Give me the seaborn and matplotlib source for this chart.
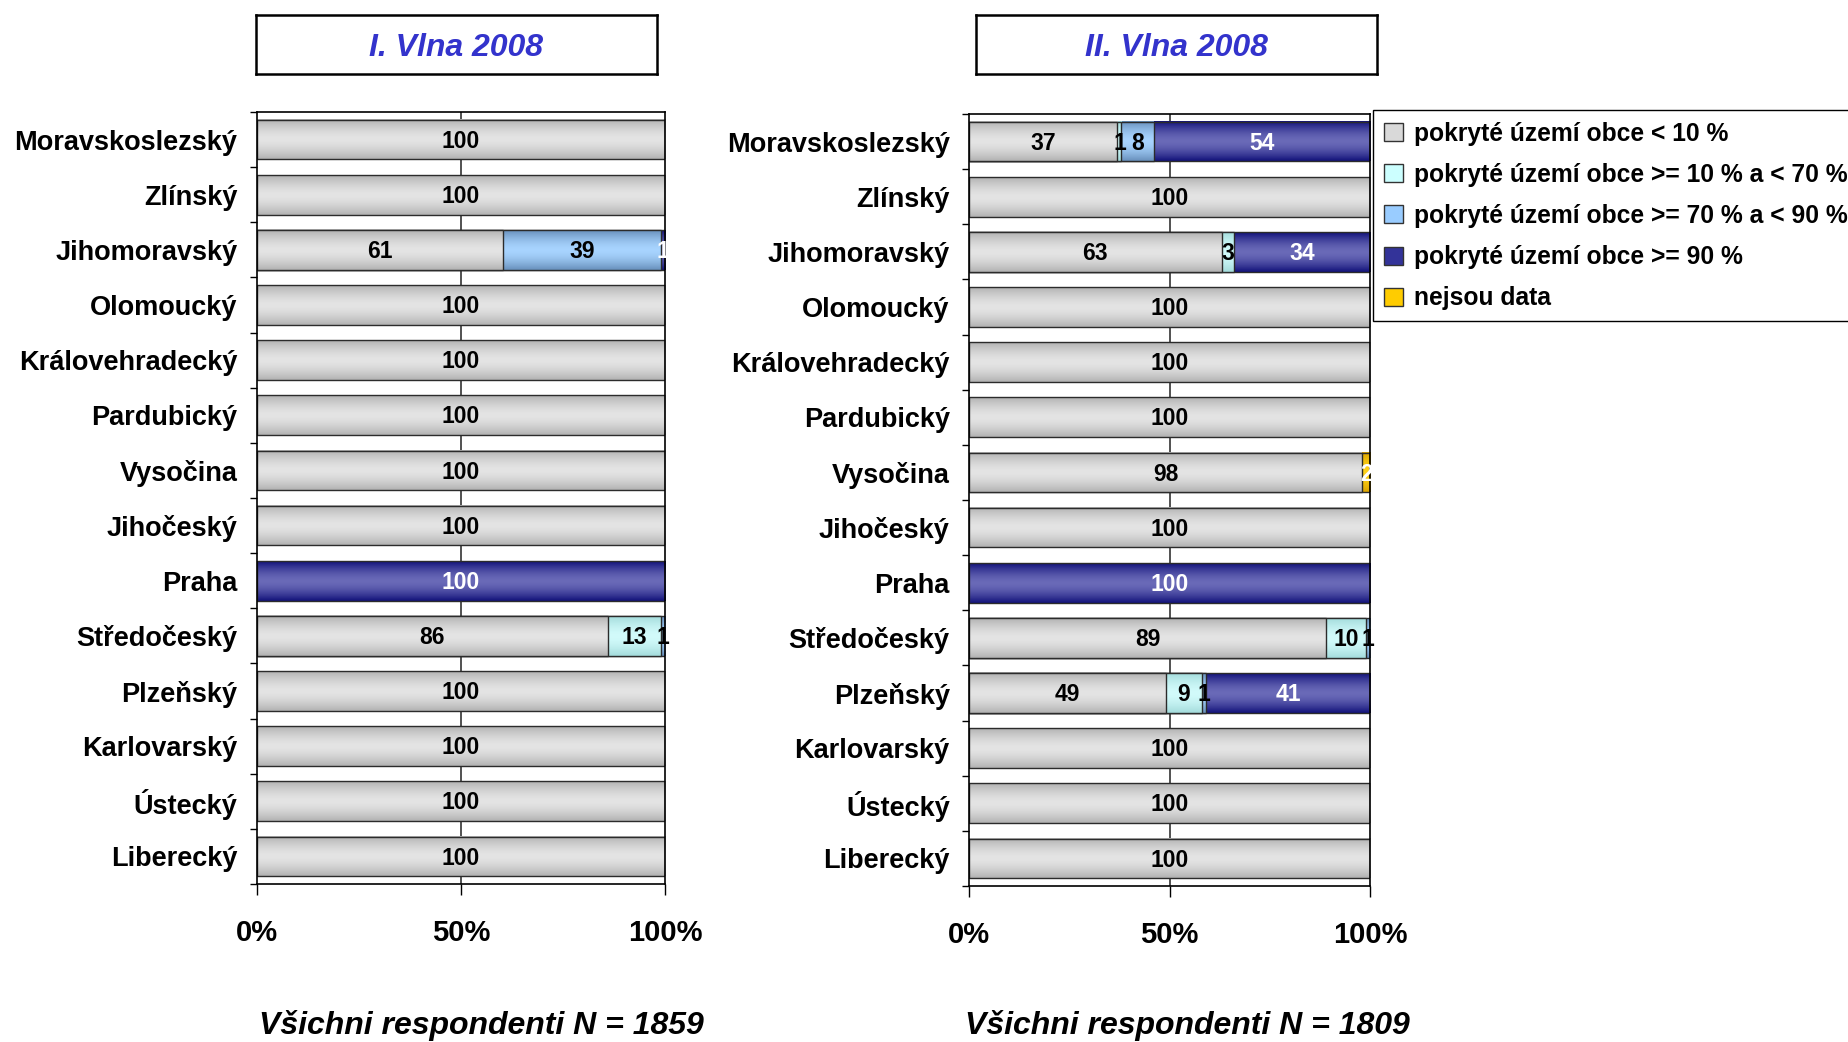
"""Gráfico de barras empilhadas 100 % - pokrytí území obce, dvě vlny 2008"""
import numpy as np
import pandas as pd
import matplotlib
matplotlib.use("Agg")
import matplotlib.pyplot as plt
from matplotlib.patches import Patch
from matplotlib.colors import to_rgb
import seaborn as sns

kraje = ["Moravskoslezský", "Zlínský", "Jihomoravský", "Olomoucký",
         "Královehradecký", "Pardubický", "Vysočina", "Jihočeský", "Praha",
         "Středočeský", "Plzeňský", "Karlovarský", "Ústecký", "Liberecký"]

kategorie = ["pokryté území obce < 10 %",
             "pokryté území obce >= 10 % a < 70 %",
             "pokryté území obce >= 70 % a < 90 %",
             "pokryté území obce >= 90 %",
             "nejsou data"]

# I. vlna 2008
vlna1_pod10 = [100, 100, 61, 100, 100, 100, 100, 100, 0, 86, 100, 100, 100, 100]
vlna1_10_70 = [0, 0, 0, 0, 0, 0, 0, 0, 0, 13, 0, 0, 0, 0]
vlna1_70_90 = [0, 0, 39, 0, 0, 0, 0, 0, 0, 1, 0, 0, 0, 0]
vlna1_nad90 = [0, 0, 1, 0, 0, 0, 0, 0, 100, 0, 0, 0, 0, 0]
vlna1_bez_dat = [0, 0, 0, 0, 0, 0, 0, 0, 0, 0, 0, 0, 0, 0]

# II. vlna 2008
vlna2_pod10 = [37, 100, 63, 100, 100, 100, 98, 100, 0, 89, 49, 100, 100, 100]
vlna2_10_70 = [1, 0, 3, 0, 0, 0, 0, 0, 0, 10, 9, 0, 0, 0]
vlna2_70_90 = [8, 0, 0, 0, 0, 0, 0, 0, 0, 1, 1, 0, 0, 0]
vlna2_nad90 = [54, 0, 34, 0, 0, 0, 0, 0, 100, 0, 41, 0, 0, 0]
vlna2_bez_dat = [0, 0, 0, 0, 0, 0, 2, 0, 0, 0, 0, 0, 0, 0]

tituly = ["I. Vlna 2008", "II. Vlna 2008"]
popisky_n = ["Všichni respondenti N = 1859", "Všichni respondenti N = 1809"]
x_ticks = [0, 50, 100]
x_labels = ["0%", "50%", "100%"]

# (centro, borda) do degradê de cada categoria
cores = [("#e4e4e4", "#b2b2b2"),
         ("#d2fbfb", "#a4dcdc"),
         ("#a8d4ff", "#6890bc"),
         ("#6a6ab8", "#12127a"),
         ("#ffd21a", "#dca400")]
cores_legenda = ["#d9d9d9", "#ccffff", "#99ccff", "#333399", "#ffcc00"]
cor_texto = ["black", "black", "black", "white", "white"]


def gradiente(c_centro, c_borda, n=60):
    """Devolve imagem (n,1,3) com degradê vertical: claro no meio, escuro nas bordas"""
    t = np.abs(np.linspace(-1, 1, n)) ** 1.6
    a, b = np.array(to_rgb(c_centro)), np.array(to_rgb(c_borda))
    return (a[None, :] * (1 - t[:, None]) + b[None, :] * t[:, None])[:, None, :]


def desenhar_painel(ax, serie):
    """Barras empilhadas 100 % (soma acumulada desenhada da maior para a menor)"""
    tbl = pd.DataFrame(np.array(serie).T, columns=kategorie, index=kraje)
    pct = tbl.div(tbl.sum(axis=1), axis=0) * 100
    cum = pct.cumsum(axis=1)

    ax.axvline(50, color="#333333", lw=1.2, zorder=1)
    z = 1.1
    for k in reversed(range(len(kategorie))):
        n0 = len(ax.patches)
        sns.barplot(x=cum.iloc[:, k].values, y=kraje, orient="h", ax=ax,
                    width=0.72, color=cores[k][0], saturation=1, errorbar=None,
                    edgecolor="#2b2b2b", linewidth=1.0)
        img = gradiente(*cores[k])
        for p, v in zip(ax.patches[n0:], tbl.iloc[:, k].values):
            if v == 0:
                p.set_visible(False)
                continue
            x0, y0, w, h = p.get_x(), p.get_y(), p.get_width(), p.get_height()
            ax.imshow(img, extent=(x0, x0 + w, y0 + h, y0), aspect="auto",
                      interpolation="bilinear", zorder=z)
            p.set_facecolor("none")
            p.set_zorder(z + 0.002)
            z += 0.005

    # rótulos dos valores
    esquerda = cum - pct
    for i, kraj in enumerate(kraje):
        for k in range(len(kategorie)):
            v = tbl.iloc[i, k]
            if v == 0:
                continue
            xc = esquerda.iloc[i, k] + pct.iloc[i, k] / 2
            ax.text(xc, i + 0.03, str(v), ha="center", va="center", fontsize=16.5,
                    fontweight="bold", color=cor_texto[k], zorder=10)

    ax.set_xlim(0, 100)
    ax.set_ylim(len(kraje) - 0.5, -0.5)
    ax.set_xlabel("")
    ax.set_ylabel("")
    ax.set_xticks(x_ticks)
    ax.set_xticklabels(x_labels, fontsize=21, fontweight="bold")
    ax.set_yticks(range(len(kraje)))
    ax.set_yticklabels(kraje, fontsize=19.5, fontweight="bold")
    ax.set_yticks(np.arange(-0.5, len(kraje), 1), minor=True)
    ax.tick_params(axis="y", which="major", length=0, pad=14, left=True)
    ax.tick_params(axis="y", which="minor", length=5, width=1, direction="out",
                   color="black", left=True)
    ax.tick_params(axis="x", which="major", length=8, width=1, direction="out",
                   color="black", pad=17, bottom=True)
    for s in ax.spines.values():
        s.set_visible(True)
        s.set_color("black")
        s.set_linewidth(1.2)


sns.set_theme(style="white")
plt.rcParams["font.family"] = ["Liberation Sans", "DejaVu Sans"]
plt.rcParams["text.color"] = "black"
plt.rcParams["xtick.color"] = "black"
plt.rcParams["ytick.color"] = "black"

fig = plt.figure(figsize=(18.48, 10.42), dpi=100)

ax1 = fig.add_axes([0.139, 0.1516, 0.2208, 0.7409])
ax2 = fig.add_axes([0.5244, 0.1497, 0.2170, 0.7409])

desenhar_painel(ax1, [vlna1_pod10, vlna1_10_70, vlna1_70_90, vlna1_nad90, vlna1_bez_dat])
desenhar_painel(ax2, [vlna2_pod10, vlna2_10_70, vlna2_70_90, vlna2_nad90, vlna2_bez_dat])

# caixas de título
for x0, titulo in zip([0.1385, 0.5281], tituly):
    tax = fig.add_axes([x0, 0.929, 0.217, 0.0566])
    tax.set_xticks([])
    tax.set_yticks([])
    for s in tax.spines.values():
        s.set_visible(True)
        s.set_color("black")
        s.set_linewidth(1.8)
    tax.text(0.5, 0.44, titulo, ha="center", va="center", fontsize=23,
             fontweight="bold", fontstyle="italic", color="#3333cc",
             transform=tax.transAxes)

# rodapé
for xc, txt in zip([0.2603, 0.6423], popisky_n):
    fig.text(xc, 0.016, txt, ha="center", va="center", fontsize=23,
             fontweight="bold", fontstyle="italic", color="black")

handles = [Patch(facecolor=c, edgecolor="#333333", linewidth=1) for c in cores_legenda]
fig.legend(handles, kategorie, loc="upper left", bbox_to_anchor=(0.743, 0.894),
           frameon=True, fancybox=False, edgecolor="black", framealpha=1,
           prop={"weight": "bold", "size": 17.7}, handlelength=0.75,
           handleheight=0.75, handletextpad=0.45, labelspacing=0.7,
           borderpad=0.45, borderaxespad=0)

fig.savefig("out.png", dpi=100)
